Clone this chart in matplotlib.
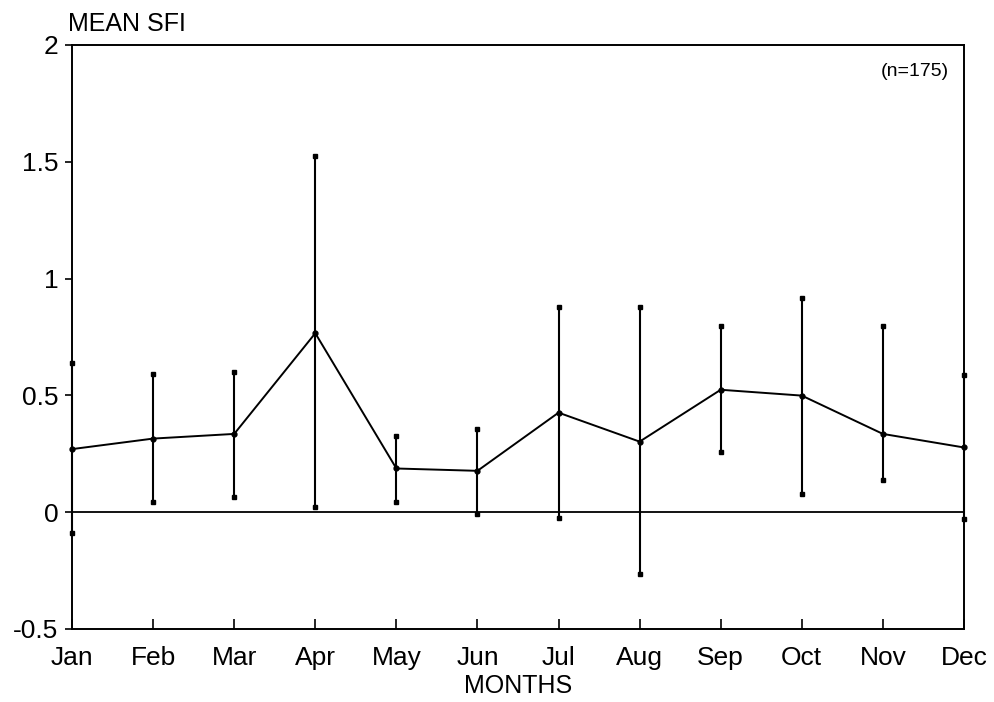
import numpy as np
import matplotlib.pyplot as plt

plt.rcParams['font.family'] = ['Liberation Sans', 'DejaVu Sans']

months = ['Jan', 'Feb', 'Mar', 'Apr', 'May', 'Jun',
          'Jul', 'Aug', 'Sep', 'Oct', 'Nov', 'Dec']
mean_sfi = [0.27, 0.315, 0.335, 0.766, 0.187, 0.177,
            0.426, 0.302, 0.524, 0.499, 0.335, 0.277]
upper = [0.64, 0.59, 0.60, 1.525, 0.324, 0.355,
         0.88, 0.88, 0.797, 0.916, 0.797, 0.588]
lower = [-0.09, 0.043, 0.064, 0.024, 0.043, -0.007,
         -0.023, -0.263, 0.258, 0.078, 0.138, -0.03]
yticks = [-0.5, 0, 0.5, 1, 1.5, 2]
ytick_labels = ['-0.5', '0', '0.5', '1', '1.5', '2']

x = np.arange(len(months))
mean_sfi = np.array(mean_sfi)
upper = np.array(upper)
lower = np.array(lower)

fig = plt.figure(figsize=(9.95, 7.02), dpi=100)
ax = fig.add_axes([0.0724, 0.104, 0.8964, 0.832])

ax.axhline(0, color='black', lw=1.3, zorder=1)
ax.vlines(x, lower, upper, color='black', lw=1.5, zorder=2, clip_on=False)
ax.plot(x, upper, 's', color='black', ms=3.5, ls='none', clip_on=False, zorder=3)
ax.plot(x, lower, 's', color='black', ms=3.5, ls='none', clip_on=False, zorder=3)
ax.plot(x, mean_sfi, '-o', color='black', lw=1.4, ms=3.5, clip_on=False, zorder=4)

ax.set_xlim(0, 11)
ax.set_ylim(-0.5, 2)
ax.set_xticks(x)
ax.set_xticklabels(months)
ax.set_yticks(yticks)
ax.set_yticklabels(ytick_labels)
ax.tick_params(axis='x', direction='in', length=7, width=1.2, labelsize=19, pad=12)
ax.tick_params(axis='y', direction='out', length=5, width=1.2, labelsize=19, pad=5)
for s in ax.spines.values():
    s.set_linewidth(1.4)

ax.text(-0.005, 1.015, 'MEAN SFI', transform=ax.transAxes, fontsize=18,
        ha='left', va='bottom')
ax.text(0.983, 0.955, '(n=175)', transform=ax.transAxes, fontsize=14,
        ha='right', va='center')
ax.set_xlabel('MONTHS', fontsize=18, labelpad=3)

plt.savefig('out.png', dpi=100)
